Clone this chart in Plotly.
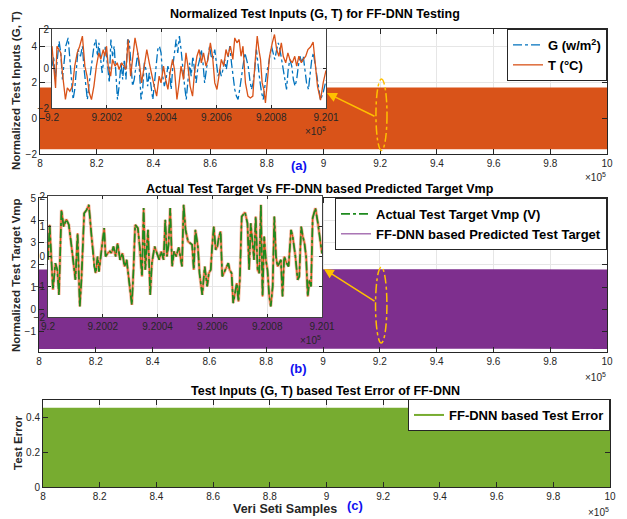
import plotly.graph_objects as go

# ---------------------------------------------------------------- data
# main-axis tick positions (samples) and their labels (x 10^5)
main_ticks = [800000, 820000, 840000, 860000, 880000, 900000,
              920000, 940000, 960000, 980000, 1000000]
main_tick_labels = ["8", "8.2", "8.4", "8.6", "8.8", "9",
                    "9.2", "9.4", "9.6", "9.8", "10"]
zoom_start = 920000
zoom_ticks = [920000, 920200, 920400, 920600, 920800, 921000]
zoom_tick_labels = ["9.2", "9.2002", "9.2004", "9.2006", "9.2008", "9.201"]

# envelope of the dense test signals over the full test window
band_x = [800000, 850000, 900000, 950000, 1000000]
band_T_hi = [1.72, 1.73, 1.72, 1.73, 1.72]
band_T_lo = [-1.74, -1.73, -1.74, -1.73, -1.74]
band_vmp_hi = [1.80, 1.81, 1.80, 1.81, 1.80]
band_vmp_lo = [-1.76, -1.75, -1.76, -1.75, -1.76]
band_err_hi = [0.455, 0.456, 0.455, 0.456, 0.455]

# zoomed window 9.2e5 .. 9.201e5 : normalized G and T
g_off = [0, 6, 12, 18, 26, 32, 38, 44, 50, 59, 65, 71, 77, 83, 89, 95, 104, 111, 116, 123,
         129, 136, 144, 153, 160, 166, 171, 177, 183, 189, 195, 202, 209, 215, 221, 227, 233, 239, 245, 252,
         258, 264, 270, 276, 282, 288, 294, 300, 307, 313, 319, 325, 331, 337, 343, 349, 355, 362, 368, 374,
         380, 386, 392, 398, 404, 410, 416, 423, 429, 435, 441, 447, 453, 459, 465, 471, 478, 484, 490, 496,
         502, 508, 514, 520, 526, 533, 539, 545, 551, 557, 563, 569, 575, 581, 587, 594, 600, 606, 612, 618,
         624, 630, 636, 642, 649, 655, 661, 667, 673, 679, 685, 691, 697, 704, 710, 716, 722, 728, 734, 740,
         746, 752, 758, 765, 771, 777, 783, 789, 795, 801, 807, 813, 820, 826, 832, 838, 844, 850, 856, 862,
         868, 875, 881, 887, 893, 899, 905, 911, 917, 923, 929, 936, 942, 948, 954, 960, 966, 972, 980, 990, 1000]
g_val = [0.12, 0.62, -0.56, 0.46, 1.38, 0.79, -0.56, 0.29, 1.13, 1.55,
         0.46, -0.56, -1.57, -1.06, -0.05, 0.96, 0.62, 1.13, 0.12, -0.89,
         -1.57, -0.73, 0.29, 1.13, 1.47, 0.62, 1.30, 0.46, -0.22, 0.46,
         1.13, 0.29, -0.73, 1.47, 0.62, 1.13, -0.22, -1.57, -0.89, 0.29,
         -0.56, 0.46, -0.56, 1.47, 1.38, 0.29, -0.89, -0.56, 0.12, 0.79,
         -0.05, -1.57, -1.06, 0.29, -0.05, -0.89, -0.22, -0.89, -1.57, -0.73,
         0.29, 0.96, 1.13, 0.79, -0.39, -0.89, -0.56, 0.12, -0.22, -1.06,
         0.12, 0.96, 1.47, 0.79, 1.64, 0.96, -0.22, -0.89, -1.57, -0.73,
         0.29, -0.39, 0.62, -0.05, -0.73, 0.12, 0.46, 0.96, 0.29, -0.73,
         -0.05, 0.62, 1.13, 0.62, 0.46, 0.96, 0.12, -0.39, -0.05, -0.39,
         -0.05, 0.46, -0.05, 0.62, 1.13, 0.29, -0.56, -1.06, -1.40, -1.57,
         -1.06, -0.39, 0.12, 0.79, 0.46, 0.12, -0.56, -1.06, -0.73, -0.05,
         0.96, 0.12, -0.56, -1.23, -1.57, -0.89, -0.22, 0.12, 0.62, 1.13,
         0.79, 0.46, 0.96, 1.30, 0.96, 0.46, -0.22, -0.56, -1.06, -0.05,
         0.46, 0.12, -0.56, -0.89, -0.56, 0.12, 0.62, 0.29, 0.62, -0.05,
         -0.73, -1.06, -0.39, 0.46, 0.79, 0.29, -0.39, -0.73, -1.60, -1.20, -0.60]

t_off = [0, 6, 13, 18, 26, 32, 38, 44, 49, 56, 65, 75, 83, 92, 101, 111, 120, 128, 136, 144,
         153, 162, 171, 178, 187, 193, 199, 205, 214, 221, 230, 238, 245, 254, 263, 270, 278, 287, 294, 303,
         311, 319, 327, 336, 346, 355, 364, 373, 382, 391, 398, 407, 415, 423, 431, 440, 447, 456, 464, 471,
         480, 489, 496, 504, 513, 520, 529, 537, 545, 553, 562, 569, 578, 586, 594, 602, 611, 618, 627, 635,
         642, 651, 660, 667, 675, 683, 690, 697, 706, 715, 724, 733, 740, 749, 755, 761, 767, 773, 779, 785,
         794, 804, 812, 820, 828, 837, 844, 853, 861, 868, 877, 886, 893, 901, 910, 917, 926, 934, 944, 953,
         960, 969, 980, 990, 1000]
t_val = [1.13, 0.29, -0.98, 1.13, 0.96, 0.79, -0.22, -1.06, -1.57, -0.98,
         -1.15, -0.89, 0.12, 0.79, 1.13, 1.64, 0.12, -0.39, -1.23, -1.57,
         -0.89, 0.12, 0.79, 0.46, 0.96, 0.62, 1.13, 0.12, -0.39, 0.46,
         0.12, 0.29, -0.05, 0.29, 0.12, -0.05, 1.47, -0.39, 0.46, 1.55,
         0.96, 0.29, -0.73, 0.12, 0.96, 0.29, -0.39, -0.89, -1.40, -0.39,
         -0.73, 0.12, -0.56, -1.06, -0.22, 0.46, -0.05, -1.57, -0.73, 0.12,
         -0.56, 0.79, 0.12, -0.89, -1.40, -0.22, 0.62, 0.96, 0.29, 0.79,
         0.12, 0.46, 1.30, 0.62, -0.73, -1.06, -0.22, 0.46, 0.12, 0.96,
         0.62, 1.13, 0.46, 1.55, 1.30, 1.47, 0.62, 1.13, -0.73, -1.40,
         -1.49, -1.40, 0.12, 1.64, 0.96, 0.46, -0.73, -1.06, -1.74, -0.73,
         0.62, 1.30, 1.72, 0.96, 0.62, 1.30, 0.62, 0.29, 0.79, 0.46,
         0.29, 0.62, 0.12, 0.62, 0.29, 0.46, 0.62, 0.96, 1.10, 1.34,
         0.20, -0.90, -1.60, -0.70, -0.10]

# zoomed window : normalized Vmp (actual target; the prediction overlaps it)
v_off = [0, 6, 18, 27, 34, 40, 49, 57, 67, 76, 86, 95, 100, 108, 116, 122, 132, 141, 149, 159,
         169, 174, 181, 186, 196, 205, 210, 218, 226, 232, 239, 247, 254, 263, 272, 279, 287, 296, 306, 312,
         318, 328, 336, 343, 349, 355, 365, 373, 379, 389, 398, 406, 413, 422, 428, 434, 440, 446, 453, 460,
         468, 477, 483, 489, 495, 502, 511, 520, 526, 532, 538, 547, 553, 559, 563, 572, 581, 587, 594, 599,
         605, 612, 618, 624, 630, 636, 648, 658, 663, 670, 676, 683, 689, 695, 700, 707, 719, 728, 734, 740,
         746, 752, 758, 765, 771, 777, 783, 789, 795, 801, 807, 813, 820, 826, 832, 838, 844, 850, 856, 862,
         871, 878, 887, 893, 903, 911, 917, 924, 930, 936, 942, 948, 954, 960, 966, 976, 985, 1000]
v_val = [-0.11, 1.05, -1.10, -0.22, -0.44, -1.27, 1.54, 0.99, 1.23, 1.05,
         0.33, -0.44, -0.77, 0.77, -1.65, -0.77, 1.43, 1.54, 1.71, 0.66,
         -0.33, -0.55, 0.0, -0.50, 0.33, 0.94, 0.0, 0.11, 0.17, 0.11,
         0.33, 0.0, 0.44, -0.11, 0.11, -0.33, -0.11, -0.88, -1.60, -0.44,
         1.05, 0.94, 0.22, -0.66, 1.60, -0.44, 0.88, -1.27, -0.22, 0.33,
         0.11, -0.11, 0.17, -0.11, 1.21, 0.0, 0.39, 1.60, -0.33, 0.17,
         0.0, 0.30, 0.0, -0.33, 1.71, 0.88, 0.50, 0.44, 0.39, -0.44,
         0.88, 0.33, -0.55, -0.99, -1.27, -0.33, -0.99, -0.55, -0.44, 0.33,
         0.99, 0.22, 0.33, 0.66, 0.83, -0.66, -0.44, -0.22, -0.44, -0.55,
         -1.54, -1.10, -0.88, -1.49, -0.77, 1.32, 1.46, 1.10, -0.44, 1.10,
         0.55, -0.11, 1.32, -0.44, -0.55, 1.71, -1.32, 0.66, -0.11, -0.44,
         -1.27, -1.65, -0.99, 1.32, 0.0, -0.33, -0.22, -0.11, -1.32, 0.0,
         -0.22, -0.33, 0.88, 0.66, 0.0, -0.77, -0.66, 0.99, 0.66, 0.44,
         0.0, -1.32, -0.77, -0.99, 1.27, 1.60, 1.10, 0.10]
vmp_pred = v_val

# ---------------------------------------------------------------- style
W, H = 627, 519
FONT = "Liberation Sans, Arial, sans-serif"
INK = "#262626"
GRID = "#E6E6E6"
BLUE = "#0072BD"
ORANGE = "#D95319"
PURPLE = "#7E2F8E"
LGREEN = "#77AC30"
DGREEN = "#1E8A1E"
GOLD = "#FFC000"
LBLUE = "#1010F0"


def xd(left, right):
    return [left / W, right / W]


def yd(top, bottom):
    return [1 - bottom / H, 1 - top / H]


def px(x):
    return x / W


def py(y):
    return 1 - y / H


def axis(**kw):
    base = dict(showline=True, linecolor=INK, linewidth=1, mirror="ticks",
                ticks="inside", ticklen=5, tickcolor=INK,
                tickfont=dict(family=FONT, size=10, color=INK),
                showgrid=True, gridcolor=GRID, gridwidth=1, zeroline=False,
                automargin=False, fixedrange=True)
    base.update(kw)
    return base


def zx(offs):
    return [zoom_start + o for o in offs]


fig = go.Figure()

# (a) full-window band of the normalized inputs
fig.add_trace(go.Scatter(
    x=band_x + band_x[::-1], y=band_T_hi + band_T_lo[::-1],
    fill="toself", fillcolor=ORANGE, mode="lines", line=dict(width=0, color=ORANGE),
    showlegend=False, hoverinfo="skip", xaxis="x", yaxis="y"))

# (a) zoomed inset
fig.add_trace(go.Scatter(
    x=zx(g_off), y=g_val, mode="lines", name="G (w/m<sup>2</sup>)",
    line=dict(color=BLUE, width=1.3, dash="dashdot"),
    xaxis="x2", yaxis="y2", legend="legend"))
fig.add_trace(go.Scatter(
    x=zx(t_off), y=t_val, mode="lines", name="T (°C)",
    line=dict(color=ORANGE, width=1.3),
    xaxis="x2", yaxis="y2", legend="legend"))

# (b) full-window band of the predicted target
fig.add_trace(go.Scatter(
    x=band_x + band_x[::-1], y=band_vmp_hi + band_vmp_lo[::-1],
    fill="toself", fillcolor=PURPLE, mode="lines", line=dict(width=0, color=PURPLE),
    showlegend=False, hoverinfo="skip", xaxis="x3", yaxis="y3"))
fig.add_trace(go.Scatter(
    x=[None], y=[None], mode="lines", name="FF-DNN based Predicted Test Target",
    line=dict(color=PURPLE, width=1), xaxis="x3", yaxis="y3",
    legend="legend2", legendrank=2))

# (b) zoomed inset
fig.add_trace(go.Scatter(
    x=zx(v_off), y=vmp_pred, mode="lines", line=dict(color="#F4B9A2", width=3.2),
    showlegend=False, hoverinfo="skip", xaxis="x4", yaxis="y4"))
fig.add_trace(go.Scatter(
    x=zx(v_off), y=vmp_pred, mode="lines", line=dict(color=ORANGE, width=1.2),
    showlegend=False, xaxis="x4", yaxis="y4"))
fig.add_trace(go.Scatter(
    x=zx(v_off), y=v_val, mode="lines", name="Actual Test Target Vmp (V)",
    line=dict(color=DGREEN, width=1.7, dash="dashdot"),
    xaxis="x4", yaxis="y4", legend="legend2", legendrank=1))

# (c) test error
fig.add_trace(go.Scatter(
    x=band_x, y=band_err_hi, fill="tozeroy", fillcolor=LGREEN, mode="lines",
    line=dict(width=0, color=LGREEN), showlegend=False, hoverinfo="skip",
    xaxis="x5", yaxis="y5"))
fig.add_trace(go.Scatter(
    x=[None], y=[None], mode="lines", name="FF-DNN based Test Error",
    line=dict(color=LGREEN, width=2), xaxis="x5", yaxis="y5", legend="legend3"))

legend_common = dict(xanchor="right", yanchor="top", bgcolor="white",
                     bordercolor=INK, borderwidth=1,
                     font=dict(family=FONT, size=13, color="black", weight="bold"),
                     tracegroupgap=0)

fig.update_layout(
    width=W, height=H, autosize=False,
    margin=dict(l=0, r=0, t=0, b=0, pad=0, autoexpand=False),
    paper_bgcolor="white", plot_bgcolor="white",
    xaxis=axis(domain=xd(40, 607), range=[800000, 1000000], tickvals=main_ticks,
               ticktext=main_tick_labels, anchor="y"),
    yaxis=axis(domain=yd(29, 154), range=[-2, 5], tickvals=[-2, 0, 2, 4], anchor="x"),
    xaxis2=axis(domain=xd(52, 326), range=[920000, 921000], tickvals=zoom_ticks,
                ticktext=zoom_tick_labels, anchor="y2", ticklen=3, linecolor="#404040"),
    yaxis2=axis(domain=yd(29, 108), range=[-2, 2], tickvals=[-2, 0, 2], anchor="x2",
                ticklen=3, linecolor="#404040"),
    xaxis3=axis(domain=xd(39, 607), range=[800000, 1000000], tickvals=main_ticks,
                ticktext=main_tick_labels, anchor="y3"),
    yaxis3=axis(domain=yd(198, 352), range=[-1.9, 5], tickvals=[-1, 0, 1, 2, 3, 4, 5],
                anchor="x3"),
    xaxis4=axis(domain=xd(48, 322), range=[920000, 921000], tickvals=zoom_ticks,
                ticktext=zoom_tick_labels, anchor="y4", ticklen=3, linecolor="#404040"),
    yaxis4=axis(domain=yd(196, 317), range=[-2, 2], tickvals=[-2, -1, 0, 1, 2],
                anchor="x4", ticklen=3, linecolor="#404040"),
    xaxis5=axis(domain=xd(43, 610), range=[800000, 1000000], tickvals=main_ticks,
                ticktext=main_tick_labels, anchor="y5"),
    yaxis5=axis(domain=yd(400, 487), range=[0, 0.5], tickvals=[0, 0.2, 0.4], anchor="x5"),
    legend=dict(x=px(607), y=py(29), **legend_common),
    legend2=dict(x=px(607), y=py(198), **legend_common),
    legend3=dict(x=px(610), y=py(399), **legend_common),
)

ann = []


def text(x, y, s, size=12, color="black", angle=0, xanchor="center"):
    ann.append(dict(x=px(x), y=py(y), xref="paper", yref="paper", text=s,
                    showarrow=False, textangle=angle, xanchor=xanchor, yanchor="middle",
                    font=dict(family=FONT, size=size, color=color)))


# titles
text(315, 14, "<b>Normalized Test Inputs (G, T) for FF-DNN Testing</b>", 12.5)
text(320, 189, "<b>Actual Test Target Vs FF-DNN based Predicted Target Vmp</b>", 12.5)
text(325, 391, "<b>Test Inputs (G, T) based Test Error of FF-DNN</b>", 12.5)
# axis labels
text(16, 91, "<b>Normalized Test Inputs (G, T)</b>", 11.5, INK, -90)
text(16, 275, "<b>Normalized Test Target Vmp</b>", 11.5, INK, -90)
text(18, 443, "<b>Test Error</b>", 11.5, INK, -90)
text(285, 509, "<b>Veri Seti Samples</b>", 12.5, INK)
# panel tags
text(299, 165, "<b>(a)</b>", 13, LBLUE)
text(298, 368, "<b>(b)</b>", 13, LBLUE)
text(355, 505, "<b>(c)</b>", 13, LBLUE)
# exponent labels
for x, y in [(608, 177), (328, 131), (608, 377), (323, 340), (611, 512)]:
    text(x, y, "×10<sup>5</sup>", 10, INK, 0, "right")

# arrows from the marked region to the zoomed inset
for head, tail in [((327, 93), (376, 117)), ((324, 269), (376, 302))]:
    ann.append(dict(x=px(head[0]), y=py(head[1]), xref="paper", yref="paper",
                    ax=tail[0] - head[0], ay=tail[1] - head[1], text="",
                    showarrow=True, arrowhead=2, arrowsize=1.3, arrowwidth=1.5,
                    arrowcolor=GOLD))
fig.update_layout(annotations=ann)

# dashed ellipses marking the zoomed window
fig.add_shape(type="circle", xref="x", yref="y", x0=918500, x1=922400, y0=-1.8, y1=2.2,
              line=dict(color=GOLD, width=1.5, dash="dashdot"), layer="above")
fig.add_shape(type="circle", xref="x3", yref="y3", x0=918500, x1=922500, y0=-1.5, y1=1.9,
              line=dict(color=GOLD, width=1.5, dash="dashdot"), layer="above")

fig.write_html("out.html", config={"responsive": False})
